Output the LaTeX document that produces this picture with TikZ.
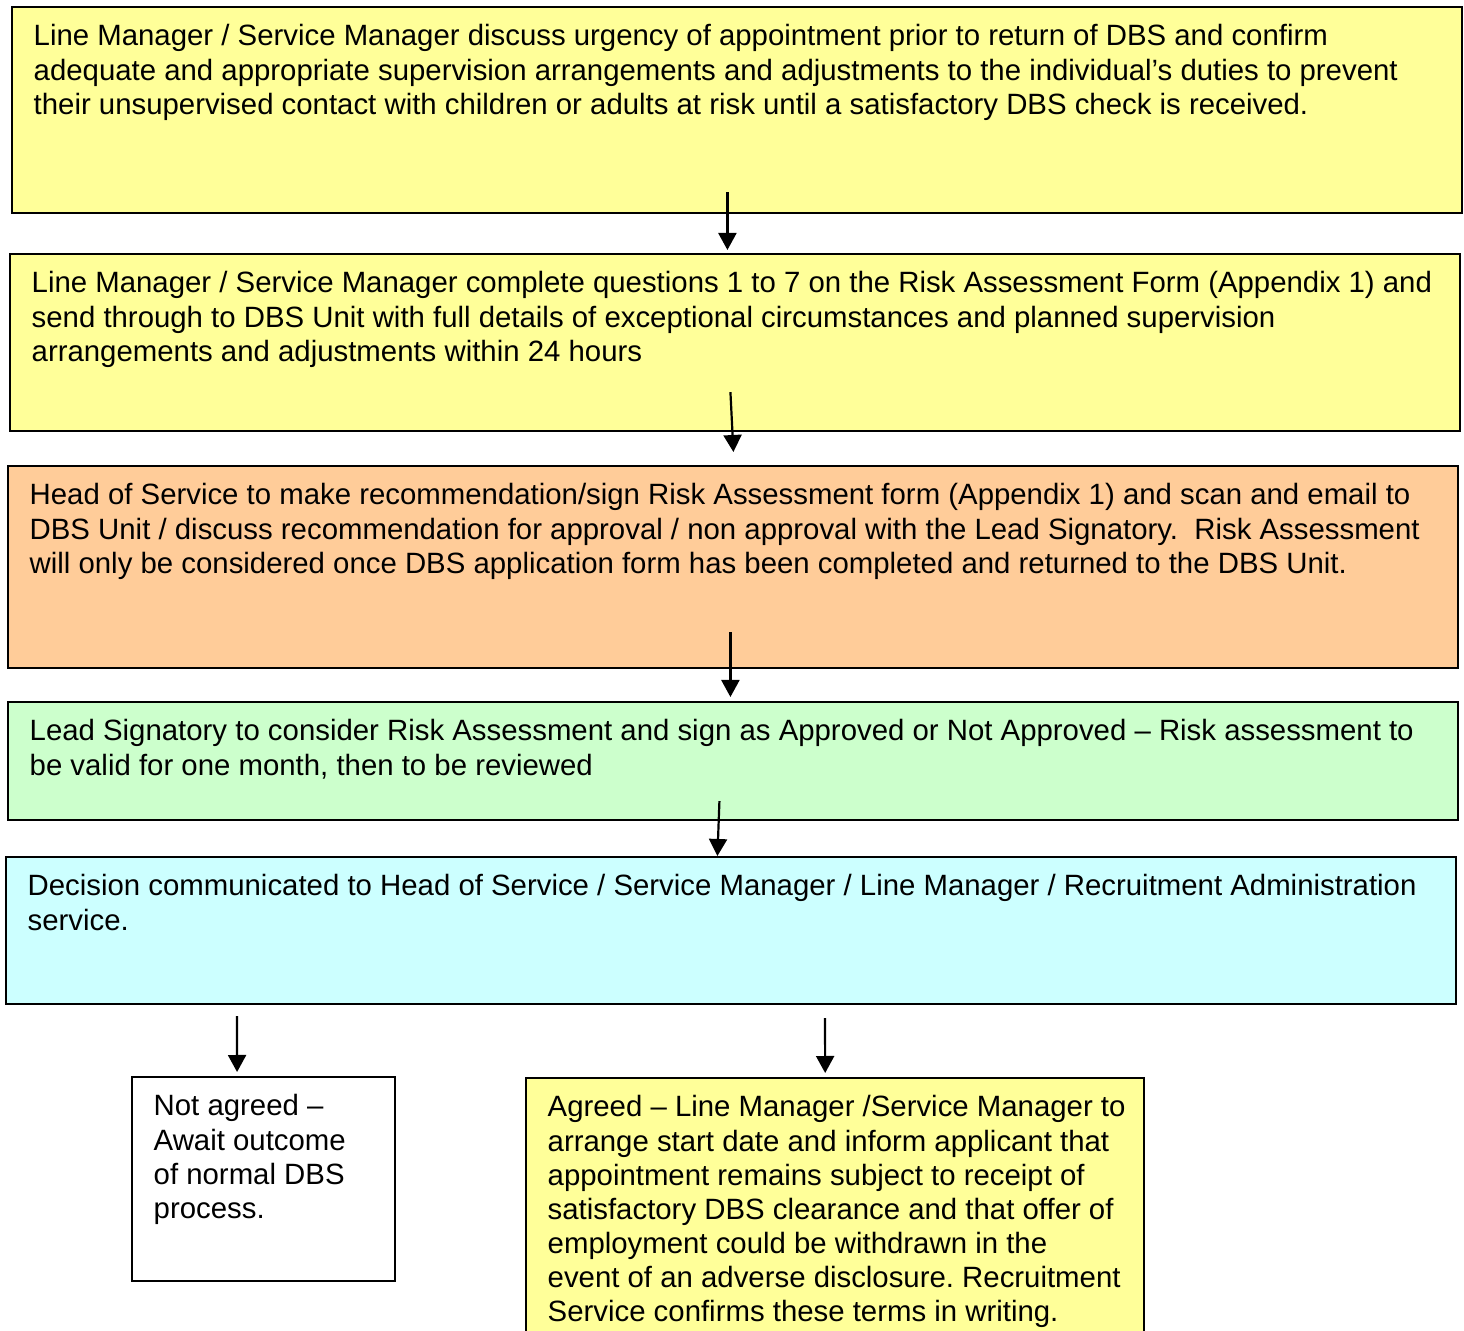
\documentclass[tikz,border=0pt]{standalone}
\usepackage{fontspec}
\setmainfont{Liberation Sans}
\usetikzlibrary{arrows.meta}

\definecolor{paleyellow}{HTML}{FFFF99}
\definecolor{paleorange}{HTML}{FFCC99}
\definecolor{palegreen}{HTML}{CCFFCC}
\definecolor{palecyan}{HTML}{CCFFFF}

\tikzset{
  stage/.style={draw, line width=0.02cm, anchor=north west, inner sep=0pt, outer sep=0pt},
  stagetext/.style={anchor=north west, inner sep=0pt, align=left,
    font=\fontsize{8.35}{9.68}\selectfont\frenchspacing},
  flow/.style={line width=0.022cm, -{Triangle[width=0.18cm,length=0.17cm]}}
}

\begin{document}
\begin{tikzpicture}[x=0.01cm, y=-0.01cm]
  \clip (0,0) rectangle (1464,1331);

  % Cajas del proceso
  \node[stage, fill=paleyellow, minimum width=14.49cm, minimum height=2.06cm] (b1) at (12,7) {};
  \node[stage, fill=paleyellow, minimum width=14.49cm, minimum height=1.77cm] (b2) at (10,254) {};
  \node[stage, fill=paleorange, minimum width=14.49cm, minimum height=2.02cm] (b3) at (8,466) {};
  \node[stage, fill=palegreen, minimum width=14.49cm, minimum height=1.18cm] (b4) at (8,702) {};
  \node[stage, fill=palecyan, minimum width=14.49cm, minimum height=1.47cm] (b5) at (6,857) {};
  \node[stage, fill=white, minimum width=2.63cm, minimum height=2.04cm] (b6) at (132,1077) {};
  \node[stage, fill=paleyellow, minimum width=6.18cm, minimum height=2.70cm] (b7) at (526,1078) {};

  % Textos
  \node[stagetext] (t1) at ([shift={(21,17)}]b1.north west)
    {Line Manager / Service Manager discuss urgency of appointment prior to return of DBS and confirm\\
     adequate and appropriate supervision arrangements and adjustments to the individual’s duties to prevent\\
     their unsupervised contact with children or adults at risk until a satisfactory DBS check is received.};
  \node[stagetext] (t2) at ([shift={(21,17)}]b2.north west)
    {Line Manager / Service Manager complete questions 1 to 7 on the Risk Assessment Form (Appendix 1) and\\
     send through to DBS Unit with full details of exceptional circumstances and planned supervision\\
     arrangements and adjustments within 24 hours};
  \node[stagetext] (t3) at ([shift={(21,17)}]b3.north west)
    {Head of Service to make recommendation/sign Risk Assessment form (Appendix 1) and scan and email to\\
     DBS Unit / discuss recommendation for approval / non approval with the Lead Signatory.\ \ Risk Assessment\\
     will only be considered once DBS application form has been completed and returned to the DBS Unit.};
  \node[stagetext] (t4) at ([shift={(21,17)}]b4.north west)
    {Lead Signatory to consider Risk Assessment and sign as Approved or Not Approved – Risk assessment to\\
     be valid for one month, then to be reviewed};
  \node[stagetext] (t5) at ([shift={(21,17)}]b5.north west)
    {Decision communicated to Head of Service / Service Manager / Line Manager / Recruitment Administration\\
     service.};
  \node[stagetext] (t6) at ([shift={(21,17)}]b6.north west)
    {Not agreed –\\ Await outcome\\ of normal DBS\\ process.};
  \node[stagetext] (t7) at ([shift={(21,17)}]b7.north west)
    {Agreed – Line Manager /Service Manager to\\
     arrange start date and inform applicant that\\
     appointment remains subject to receipt of\\
     satisfactory DBS clearance and that offer of\\
     employment could be withdrawn in the\\
     event of an adverse disclosure. Recruitment\\
     Service confirms these terms in writing.};

  % Flechas
  \draw[flow] ([shift={(-9.5,-21)}]b1.south) -- ([shift={(-7.5,-4)}]b2.north);
  \draw[flow] ([shift={(-4.5,-39)}]b2.south) -- ([shift={(0.5,-14)}]b3.north);
  \draw[flow] ([shift={(-2.5,-36)}]b3.south) -- ([shift={(-2.5,-5)}]b4.north);
  \draw[flow] ([shift={(-13.5,-19)}]b4.south) -- ([shift={(-13.5,-1)}]b5.north);
  \draw[flow] ([shift={(231,12)}]b5.south west) -- ([shift={(-26.5,-5)}]b6.north);
  \draw[flow] ([shift={(819,14)}]b5.south west) -- ([shift={(-10,-5)}]b7.north);
\end{tikzpicture}
\end{document}
